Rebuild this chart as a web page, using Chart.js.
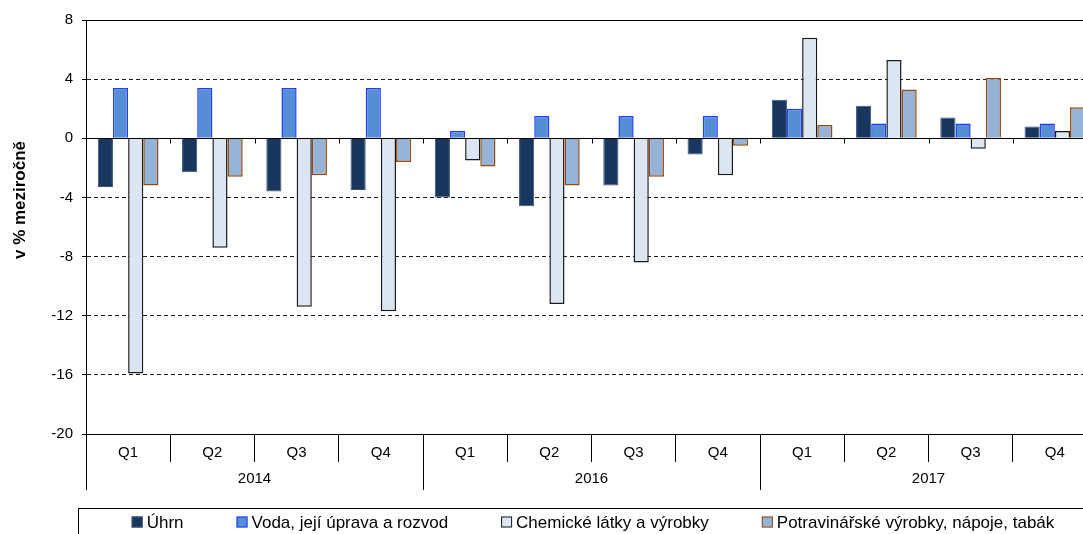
<!DOCTYPE html>
<html><head><meta charset="utf-8">
<script src="https://cdn.jsdelivr.net/npm/chart.js@4.4.1/dist/chart.umd.min.js"></script>
<style>
html,body{margin:0;padding:0;overflow:hidden;background:#fff;width:1083px;height:534px}
#wrap{position:absolute;left:0;top:0;width:1110px;height:534px}
</style></head><body>
<div id="wrap"><canvas id="c" width="1110" height="534"></canvas></div>
<script>
const quarters = ['Q1','Q2','Q3','Q4','Q1','Q2','Q3','Q4','Q1','Q2','Q3','Q4'];
const years = ['2014','2016','2017'];
const yTicks = [-20,-16,-12,-8,-4,0,4,8];
const uhrn   = [-3.3,-2.3,-3.6,-3.5,-4.0,-4.6,-3.2,-1.1, 2.6, 2.2, 1.4, 0.8];
const voda   = [ 3.4, 3.4, 3.4, 3.4, 0.5, 1.5, 1.5, 1.5, 2.0, 1.0, 1.0, 1.0];
const chem   = [-15.9,-7.4,-11.4,-11.7,-1.5,-11.2,-8.4,-2.5, 6.8, 5.3,-0.7, 0.5];
const potrav = [-3.2,-2.6,-2.5,-1.6,-1.9,-3.2,-2.6,-0.5, 0.9, 3.3, 4.1, 2.1];
const seriesNames = ['Úhrn','Voda, její úprava a rozvod','Chemické látky a výrobky','Potravinářské výrobky, nápoje, tabák'];
const axisTitle = 'v % meziročně';

const FONT = '"Liberation Sans", Arial, sans-serif';
Chart.defaults.font.family = FONT;
Chart.defaults.color = '#000';

const excelAxes = {
  id: 'excelAxes',
  afterDatasetsDraw(chart) {
    const {ctx, chartArea: a, scales: {x, y}} = chart;
    const y0 = Math.round(y.getPixelForValue(0)) + 0.5;
    ctx.save();
    ctx.strokeStyle = '#000';
    ctx.lineWidth = 1;
    ctx.setLineDash([]);
    ctx.beginPath();
    ctx.moveTo(a.left, y0); ctx.lineTo(a.right, y0);
    const top = Math.round(a.top) + 0.5;
    ctx.moveTo(a.left, top); ctx.lineTo(a.right, top);
    const n = x.ticks.length;
    const step = (x.getPixelForValue(1) - x.getPixelForValue(0));
    for (let i = 0; i <= n; i++) {
      const px = Math.round(x.getPixelForValue(0) - step / 2 + i * step) + 0.5;
      ctx.moveTo(px, y0); ctx.lineTo(px, y0 + 5);
    }
    ctx.stroke();
    ctx.restore();
  },
  afterDraw(chart) {
    const ctx = chart.ctx;
    ctx.save();
    ctx.translate(20, 200);
    ctx.rotate(-Math.PI / 2);
    ctx.font = 'bold 17px ' + FONT;
    ctx.fillStyle = '#000';
    ctx.textAlign = 'center';
    ctx.textBaseline = 'middle';
    ctx.fillText(axisTitle, 0, 0);
    ctx.restore();
  }
};

const boxLegend = {
  id: 'boxLegend',
  afterDraw(chart) {
    const ctx = chart.ctx;
    const left = 78, top = 508, right = chart.width + 5, bottom = chart.height + 5;
    ctx.save();
    ctx.strokeStyle = '#000'; ctx.lineWidth = 1; ctx.setLineDash([]);
    ctx.strokeRect(left + 0.5, top + 0.5, right - left, bottom - top);
    ctx.font = '17px ' + FONT;
    const box = 11, gapBox = 4, gapItem = 53;
    const items = chart.data.datasets.map(d => ({label: d.label, w: ctx.measureText(d.label).width, fill: d.backgroundColor, stroke: d.borderColor}));
    const total = items.reduce((s, it) => s + box + gapBox + it.w, 0) + gapItem * (items.length - 1);
    let x = 593 - total / 2;
    const cy = 522;
    ctx.textBaseline = 'middle'; ctx.textAlign = 'left';
    items.forEach(it => {
      ctx.fillStyle = it.fill;
      ctx.fillRect(x, cy - 5.5, box, box);
      ctx.strokeStyle = it.stroke;
      ctx.strokeRect(x + 0.5, cy - 5, box - 1, box - 1);
      ctx.fillStyle = '#000';
      ctx.fillText(it.label, x + box + gapBox, cy + 1);
      x += box + gapBox + it.w + gapItem;
    });
    ctx.restore();
  }
};

new Chart(document.getElementById('c'), {
  type: 'bar',
  data: {
    labels: quarters,
    datasets: [
      {label: seriesNames[0], data: uhrn,   backgroundColor: '#17375E', borderColor: '#3A5478', borderWidth: 1},
      {label: seriesNames[1], data: voda,   backgroundColor: '#558ED5', borderColor: '#1F3CFF', borderWidth: 1.5},
      {label: seriesNames[2], data: chem,   backgroundColor: '#DCE6F2', borderColor: '#1A1A1A', borderWidth: 1.5},
      {label: seriesNames[3], data: potrav, backgroundColor: '#95B3D7', borderColor: '#984807', borderWidth: 1.5}
    ]
  },
  options: {
    responsive: false,
    animation: false,
    layout: {padding: {top: 20, bottom: 44, left: 0, right: 13}},
    datasets: {bar: {categoryPercentage: 0.72, barPercentage: 1.0}},
    plugins: {legend: {display: false}, tooltip: {enabled: false}, title: {display: false}},
    scales: {
      y: {
        min: -20, max: 8,
        afterBuildTicks: s => { s.ticks = yTicks.map(v => ({value: v})); },
        afterFit: s => { s.width = 86; },
        grid: {color: '#1a1a1a', lineWidth: 1, drawTicks: true, tickLength: 4, tickColor: '#000'},
        border: {display: true, color: '#000', width: 1, dash: [4, 3]},
        ticks: {font: {size: 15}, color: '#000', padding: 9}
      },
      x: {
        type: 'category', position: 'bottom', offset: true, weight: 0,
        afterFit: s => { s.height = 28; },
        grid: {offset: true, drawOnChartArea: false, drawTicks: true, tickLength: 28, color: '#000', tickColor: '#000', lineWidth: 1},
        border: {display: true, color: '#000', width: 1},
        ticks: {font: {size: 15}, color: '#000', padding: -18, maxRotation: 0, autoSkip: false}
      },
      x2: {
        type: 'category', labels: years, position: 'bottom', offset: true, weight: 1,
        afterFit: s => { s.height = 28; },
        grid: {offset: true, drawOnChartArea: false, drawTicks: true, tickLength: 28, color: '#000', tickColor: '#000', lineWidth: 1},
        border: {display: false},
        ticks: {font: {size: 15}, color: '#000', padding: -20, maxRotation: 0, autoSkip: false}
      }
    }
  },
  plugins: [excelAxes, boxLegend]
});
</script>
</body></html>
